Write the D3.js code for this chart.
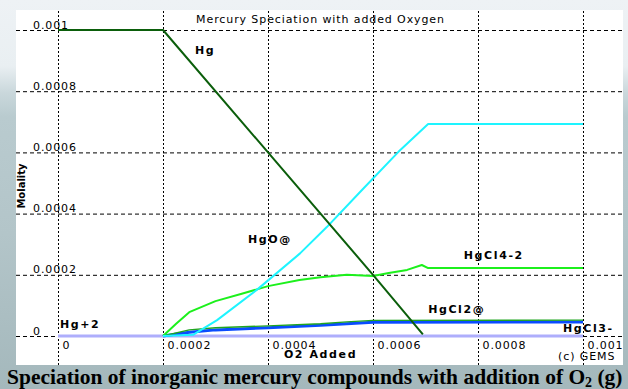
<!DOCTYPE html>
<html>
<head>
<meta charset="utf-8">
<script src="https://cdn.jsdelivr.net/npm/d3@7"></script>
<style>
    body { margin: 0; }
    .tick-label { font-family: "DejaVu Sans", sans-serif; font-size: 11px; letter-spacing: 0.9px; fill: #000; }
    .series-label { font-family: "DejaVu Sans", sans-serif; font-size: 11px; font-weight: bold; letter-spacing: 1.6px; fill: #000; }
    .caption { font-family: "Liberation Serif", "Times New Roman", serif; font-weight: bold; fill: #000; }
</style>
</head>
<body>
<script>
// values (O2 added vs molality)
const xTicks = [0, 0.0002, 0.0004, 0.0006, 0.0008, 0.001];
const xTickLabels = ["0", "0.0002", "0.0004", "0.0006", "0.0008", "0.001"];
const yTicks = [0, 0.0002, 0.0004, 0.0006, 0.0008, 0.001];
const yTickLabels = ["0", "0.0002", "0.0004", "0.0006", "0.0008", "0.001"];

const hgPlus2X = [0, 0.001];
const hgPlus2Y = [0, 0];

const hgCl2X = [0.0002, 0.00025, 0.0003, 0.0004, 0.0005, 0.00055, 0.0006, 0.001];
const hgCl2Y = [0, 0.000012, 0.00002, 0.000027, 0.000035, 0.00004, 0.000045, 0.000046];

const hgCl3X = [0.0002, 0.00025, 0.0003, 0.0004, 0.0005, 0.00055, 0.0006, 0.001];
const hgCl3Y = [0, 0.00002, 0.000027, 0.000033, 0.00004, 0.000046, 0.000051, 0.000052];

const hgCl4X = [0.0002, 0.000225, 0.00025, 0.0003, 0.00035, 0.0004, 0.00046, 0.0005, 0.00055, 0.0006, 0.00063, 0.000665, 0.000693, 0.000705, 0.001];
const hgCl4Y = [0, 0.00004, 0.000078, 0.000114, 0.000138, 0.000163, 0.000183, 0.000192, 0.0002, 0.000196, 0.000206, 0.000216, 0.000232, 0.000222, 0.000222];

const hgOX = [0.0002, 0.000257, 0.000303, 0.000381, 0.000461, 0.000512, 0.000579, 0.000648, 0.000705, 0.001];
const hgOY = [0, 0.000004, 0.000052, 0.000154, 0.00027, 0.000356, 0.000477, 0.000601, 0.000693, 0.000693];

const hgX = [0, 0.0002, 0.0004, 0.0006, 0.000695];
const hgY = [0.001, 0.001, 0.0006, 0.0002, 0.000005];

const zip = (xs, ys) => xs.map((x, i) => ({ x: x, y: ys[i] }));

// drawing order matters: later ones sit on top
const series = [
    { name: "Hg+2", points: zip(hgPlus2X, hgPlus2Y), color: "#aeaefc", width: 3 },
    { name: "HgCl2@", points: zip(hgCl2X, hgCl2Y), color: "#0a4cff", width: 3 },
    { name: "HgCl3-", points: zip(hgCl3X, hgCl3Y), color: "#1fa51f", width: 1.4 },
    { name: "HgCl4-2", points: zip(hgCl4X, hgCl4Y), color: "#1cf01c", width: 2 },
    { name: "HgO@", points: zip(hgOX, hgOY), color: "#1ef4ff", width: 2 },
    { name: "Hg", points: zip(hgX, hgY), color: "#0b5e0b", width: 2 }
];

// where each name sits, in data units
const labelSpots = {
    "Hg": [0.000261, 0.00092],
    "HgO@": [0.000362, 0.000304],
    "HgCl4-2": [0.000773, 0.000252],
    "HgCl2@": [0.000705, 0.000075],
    "HgCl3-": [0.000962, 0.000013],
    "Hg+2": [0.0000038, 0.000026]
};

const width = 628;
const height = 389;
const panel = { left: 16, top: 10, right: 623, bottom: 365 };

const svg = d3.select("body")
    .append("svg")
    .attr("width", width)
    .attr("height", height);

const grad = svg.append("defs")
    .append("linearGradient")
    .attr("id", "sea")
    .attr("x1", 0).attr("y1", 0)
    .attr("x2", 0).attr("y2", 1);
[
    [0, "#eef2f5"], [0.17, "#e9eff2"], [0.24, "#c9d7db"],
    [0.3, "#b9cbcf"], [0.6, "#b3c5c9"], [1, "#a4b8bc"]
].forEach(s => grad.append("stop").attr("offset", s[0]).attr("stop-color", s[1]));

svg.append("rect")
    .attr("width", width)
    .attr("height", height)
    .attr("fill", "url(#sea)");

svg.append("rect")
    .attr("x", panel.left)
    .attr("y", panel.top)
    .attr("width", panel.right - panel.left)
    .attr("height", panel.bottom - panel.top)
    .attr("fill", "#fff");

const xScale = d3.scaleLinear()
    .domain([0, 0.001])
    .range([58, 583]);

const yScale = d3.scaleLinear()
    .domain([0, 0.001])
    .range([336, 30]);

// horizontal grid + y labels
const yAxis = d3.axisLeft(yScale)
    .tickValues(yTicks)
    .tickFormat((d, i) => yTickLabels[i])
    .tickSize(-(panel.right - panel.left));

const yAxisG = svg.append("g")
    .attr("transform", `translate(${panel.left}, 0)`)
    .call(yAxis);
yAxisG.selectAll(".domain").remove();
yAxisG.selectAll(".tick line")
    .attr("stroke", "#000")
    .attr("stroke-dasharray", "4,3");
yAxisG.selectAll(".tick text")
    .attr("x", 17)
    .attr("y", -2)
    .attr("dy", null)
    .attr("text-anchor", "start")
    .attr("font-family", null)
    .attr("font-size", null)
    .classed("tick-label", true);

// vertical grid + x labels
const xAxis = d3.axisBottom(xScale)
    .tickValues(xTicks)
    .tickFormat((d, i) => xTickLabels[i])
    .tickSize(-(panel.bottom - panel.top));

const xAxisG = svg.append("g")
    .attr("transform", `translate(0, ${panel.bottom})`)
    .call(xAxis);
xAxisG.selectAll(".domain").remove();
xAxisG.selectAll(".tick line")
    .attr("stroke", "#000")
    .attr("stroke-dasharray", "2,2");
xAxisG.selectAll(".tick text")
    .attr("x", 4)
    .attr("y", -16)
    .attr("dy", null)
    .attr("text-anchor", "start")
    .attr("font-family", null)
    .attr("font-size", null)
    .classed("tick-label", true);

const line = d3.line()
    .x(d => xScale(d.x))
    .y(d => yScale(d.y));

svg.append("g")
    .selectAll("path")
    .data(series).enter()
    .append("path")
        .attr("d", d => line(d.points))
        .attr("fill", "none")
        .attr("stroke", d => d.color)
        .attr("stroke-width", d => d.width)
        .attr("stroke-linejoin", "round");

svg.append("g")
    .selectAll("text")
    .data(series).enter()
    .append("text")
        .attr("x", d => xScale(labelSpots[d.name][0]))
        .attr("y", d => yScale(labelSpots[d.name][1]))
        .text(d => d.name)
        .classed("series-label", true);

svg.append("text")
    .attr("x", (xScale(0) + xScale(0.001)) / 2)
    .attr("y", 23)
    .attr("text-anchor", "middle")
    .text("Mercury Speciation with added Oxygen")
    .classed("tick-label", true);

svg.append("text")
    .attr("x", (xScale(0) + xScale(0.001)) / 2)
    .attr("y", 358)
    .attr("text-anchor", "middle")
    .text("O2 Added")
    .classed("series-label", true);

svg.append("text")
    .attr("x", 558)
    .attr("y", 360)
    .text("(c) GEMS")
    .classed("tick-label", true);

svg.append("text")
    .attr("transform", "translate(25, 186) rotate(-90)")
    .attr("text-anchor", "middle")
    .attr("font-family", "DejaVu Sans, sans-serif")
    .attr("font-size", 10)
    .attr("font-weight", "bold")
    .text("Molality");

// caption: size it so it runs from x=7 to just short of the right edge
const caption = svg.append("text")
    .attr("x", 7)
    .attr("y", 384)
    .attr("font-size", 21)
    .classed("caption", true);
caption.append("tspan").text("Speciation of inorganic mercury compounds with addition of O");
const sub = caption.append("tspan").attr("font-size", 14).attr("dy", 3).text("2");
caption.append("tspan").attr("dy", -3).text(" (g)");

const captionWidth = caption.node().getComputedTextLength();
const fit = 21 * 616 / captionWidth;
caption.attr("font-size", fit);
sub.attr("font-size", fit * 0.65);
</script>
</body>
</html>
